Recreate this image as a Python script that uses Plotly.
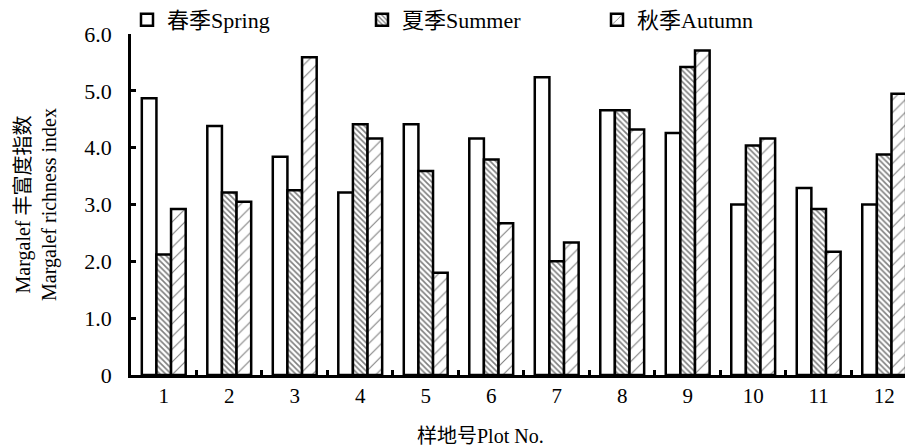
import plotly.graph_objects as go

plots = ["1", "2", "3", "4", "5", "6", "7", "8", "9", "10", "11", "12"]
spring = [4.87, 4.38, 3.84, 3.21, 4.41, 4.16, 5.24, 4.66, 4.26, 3.00, 3.29, 3.00]
summer = [2.12, 3.21, 3.25, 4.41, 3.59, 3.79, 2.00, 4.66, 5.42, 4.04, 2.92, 3.88]
autumn = [2.92, 3.05, 5.59, 4.16, 1.80, 2.67, 2.33, 4.32, 5.71, 4.16, 2.17, 4.95]
series_names = ["春季Spring", "夏季Summer", "秋季Autumn"]
ytick_vals = [0, 1, 2, 3, 4, 5, 6]
ytick_text = ["0", "1.0", "2.0", "3.0", "4.0", "5.0", "6.0"]

FONT = "Liberation Serif, Times New Roman, Noto Sans CJK SC, serif"

fig = go.Figure()
fig.add_trace(go.Bar(
    x=plots, y=spring, name=series_names[0],
    marker=dict(color="white", line=dict(color="black", width=2.5)),
))
fig.add_trace(go.Bar(
    x=plots, y=summer, name=series_names[1],
    marker=dict(color="white", line=dict(color="black", width=2.5),
                pattern=dict(shape="\\", fgcolor="black", bgcolor="white",
                             size=4, solidity=0.4)),
))
fig.add_trace(go.Bar(
    x=plots, y=autumn, name=series_names[2],
    marker=dict(color="white", line=dict(color="black", width=2.5),
                pattern=dict(shape="/", fgcolor="black", bgcolor="white",
                             size=9, solidity=0.12)),
))

fig.update_layout(
    width=905, height=440,
    margin=dict(l=123, r=0, t=26, b=73, autoexpand=False),
    paper_bgcolor="white", plot_bgcolor="white",
    barmode="group", bargap=0.33, bargroupgap=0,
    font=dict(family=FONT, size=20, color="black"),
    showlegend=True,
    legend=dict(
        orientation="h", x=-4 / 782, y=1.041, xanchor="left", yanchor="middle",
        entrywidth=190, entrywidthmode="pixels", itemwidth=30,
        font=dict(family=FONT, size=22, color="black"),
        bgcolor="rgba(0,0,0,0)", tracegroupgap=0,
    ),
    xaxis=dict(
        type="category", range=[-0.5, 11.44],
        showline=True, linecolor="black", linewidth=2.5,
        ticks="inside", ticklen=5, tickwidth=2.5, tickcolor="black",
        tickson="boundaries", showgrid=False,
        tickfont=dict(family=FONT, size=21),
    ),
    yaxis=dict(
        range=[0, 6], tickvals=ytick_vals, ticktext=ytick_text,
        showline=True, linecolor="black", linewidth=2.5,
        ticks="inside", ticklen=5, tickwidth=2.5, tickcolor="black",
        showgrid=False, zeroline=False, ticklabelstandoff=12,
        tickfont=dict(family=FONT, size=22),
        title=dict(text="Margalef 丰富度指数<br>Margalef richness index",
                   font=dict(family=FONT, size=20), standoff=23),
    ),
    annotations=[dict(
        text="样地号Plot No.", xref="paper", yref="paper",
        x=(480 - 131) / 782, y=-(428 - 367) / 341, xanchor="center", yanchor="middle",
        showarrow=False, font=dict(family=FONT, size=20),
    )],
)

fig.write_html("out.html")
